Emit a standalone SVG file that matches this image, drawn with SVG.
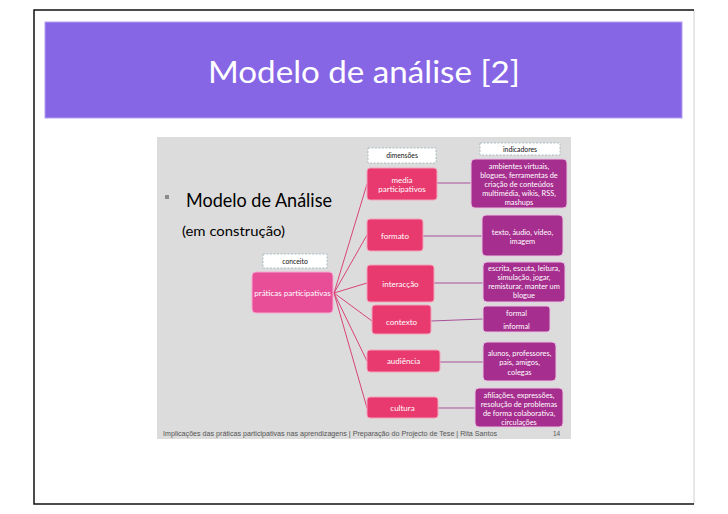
<svg xmlns="http://www.w3.org/2000/svg" width="728" height="514" viewBox="0 0 728 514">
<style>
.dim{fill:#E83A6E;stroke:#F4A3BC;stroke-width:1}
.con{fill:#E84E98;stroke:#F6A9CF;stroke-width:1}
.ind{fill:#A62E8E;stroke:#E9C3DF;stroke-width:1}
.lab{fill:#FFFFFF;stroke:#9FB0B8;stroke-width:0.8;stroke-dasharray:2,1.5}
.t{font-family:Lato,"Open Sans",sans-serif;font-size:8px;fill:#FFFFFF;text-anchor:middle}
.ti{font-family:Lato,"Open Sans",sans-serif;font-size:7.4px;fill:#FFFFFF;text-anchor:middle}
.lt{font-family:Lato,"Open Sans",sans-serif;font-size:6.8px;fill:#111111;text-anchor:middle}
.c1{stroke:#D9437A;stroke-width:1;fill:none}
.c2{stroke:#A9509A;stroke-width:1;fill:none}
</style>
<rect x="0" y="0" width="728" height="514" fill="#FFFFFF"/>
<g id="frame">
<line x1="694" y1="10" x2="694" y2="504" stroke="#D0D0D0" stroke-width="1"/>
<polyline points="694,10 34,10 34,504 694,504" fill="none" stroke="#111111" stroke-width="1.5"/>
</g>
<g id="title">
<rect x="45" y="22" width="637" height="96" fill="#8766E6" stroke="#B3A0F0" stroke-width="1"/>
<text x="364" y="83" font-family="Lato,'Open Sans',sans-serif" font-size="30" fill="#FFFFFF" text-anchor="middle" textLength="312" lengthAdjust="spacingAndGlyphs">Modelo de análise [2]</text>
</g>
<g id="slide">
<rect x="157" y="137" width="414" height="302" fill="#DCDCDC"/>
<rect x="165" y="195" width="4" height="4" fill="#8A8A8A"/>
<text x="186" y="207" font-family="Lato,'Open Sans',sans-serif" font-size="19" fill="#000000" textLength="146" lengthAdjust="spacingAndGlyphs">Modelo de Análise</text>
<text x="182" y="236" font-family="Lato,'Open Sans',sans-serif" font-size="14" fill="#000000" textLength="103" lengthAdjust="spacingAndGlyphs">(em construção)</text>
<text x="163" y="436" font-family="'Liberation Sans',Arial,sans-serif" font-size="6.5" fill="#555555" textLength="334" lengthAdjust="spacingAndGlyphs">Implicações das práticas participativas nas aprendizagens | Preparação do Projecto de Tese |  Rita Santos</text>
<text x="553" y="436" font-family="'Liberation Sans',Arial,sans-serif" font-size="6.5" fill="#555555">14</text>
</g>
<g id="connectors">
<line class="c1" x1="334" y1="293" x2="367" y2="184"/>
<line class="c1" x1="334" y1="293" x2="367" y2="235"/>
<line class="c1" x1="334" y1="293" x2="367" y2="283"/>
<line class="c1" x1="334" y1="293" x2="372" y2="321"/>
<line class="c1" x1="334" y1="293" x2="367" y2="361"/>
<line class="c1" x1="334" y1="293" x2="367" y2="408"/>
<line class="c2" x1="437" y1="183" x2="471" y2="183"/>
<line class="c2" x1="423" y1="236" x2="482" y2="236"/>
<line class="c2" x1="434" y1="283" x2="483" y2="283"/>
<line class="c2" x1="431" y1="321" x2="483" y2="319"/>
<line class="c2" x1="440" y1="362" x2="483" y2="362"/>
<line class="c2" x1="438" y1="408" x2="475" y2="408"/>
</g>
<g id="label-conceito">
<rect class="lab" x="263" y="254" width="64" height="14"/>
<text class="lt" x="295" y="264">conceito</text>
</g>
<g id="label-dimensoes">
<rect class="lab" x="368" y="148" width="68" height="15"/>
<text class="lt" x="402" y="158">dimensões</text>
</g>
<g id="label-indicadores">
<rect class="lab" x="480" y="143" width="80" height="12"/>
<text class="lt" x="520" y="152">indicadores</text>
</g>
<g id="node-praticas">
<rect class="con" x="252" y="272" width="81" height="41" rx="4"/>
<text class="t" x="292.5" y="296">práticas participativas</text>
</g>
<g id="node-media">
<rect class="dim" x="367" y="168" width="70" height="32" rx="3"/>
<text class="t" x="402" y="183">media</text>
<text class="t" x="402" y="192">participativos</text>
</g>
<g id="node-formato">
<rect class="dim" x="367" y="219" width="56" height="32" rx="3"/>
<text class="t" x="395" y="239">formato</text>
</g>
<g id="node-interaccao">
<rect class="dim" x="367" y="265" width="67" height="37" rx="3"/>
<text class="t" x="400.5" y="287">interacção</text>
</g>
<g id="node-contexto">
<rect class="dim" x="372" y="305" width="59" height="29" rx="3"/>
<text class="t" x="401.5" y="325">contexto</text>
</g>
<g id="node-audiencia">
<rect class="dim" x="367" y="350" width="73" height="22" rx="3"/>
<text class="t" x="403.5" y="364">audiência</text>
</g>
<g id="node-cultura">
<rect class="dim" x="367" y="397" width="71" height="21" rx="3"/>
<text class="t" x="402.5" y="411">cultura</text>
</g>
<g id="ind-media">
<rect class="ind" x="471" y="159" width="96" height="49" rx="4"/>
<text class="ti" x="519" y="169">ambientes virtuais,</text>
<text class="ti" x="519" y="178">blogues, ferramentas de</text>
<text class="ti" x="519" y="187">criação de conteúdos</text>
<text class="ti" x="519" y="196">multimédia, wikis, RSS,</text>
<text class="ti" x="519" y="205">mashups</text>
</g>
<g id="ind-formato">
<rect class="ind" x="482" y="215" width="81" height="41" rx="4"/>
<text class="ti" x="522.5" y="235">texto, áudio, vídeo,</text>
<text class="ti" x="522.5" y="244">imagem</text>
</g>
<g id="ind-interaccao">
<rect class="ind" x="483" y="262" width="82" height="40" rx="4"/>
<text class="ti" x="524" y="271">escrita, escuta, leitura,</text>
<text class="ti" x="524" y="280">simulação, jogar,</text>
<text class="ti" x="524" y="289">remisturar, manter um</text>
<text class="ti" x="524" y="298">blogue</text>
</g>
<g id="ind-contexto">
<rect class="ind" x="483" y="306" width="67" height="26" rx="3"/>
<text class="ti" x="516.5" y="316">formal</text>
<text class="ti" x="516.5" y="329">informal</text>
</g>
<g id="ind-audiencia">
<rect class="ind" x="483" y="342" width="73" height="39" rx="4"/>
<text class="ti" x="519.5" y="356">alunos, professores,</text>
<text class="ti" x="519.5" y="365">pais, amigos,</text>
<text class="ti" x="519.5" y="375">colegas</text>
</g>
<g id="ind-cultura">
<rect class="ind" x="475" y="388" width="88" height="39" rx="4"/>
<text class="ti" x="519" y="398">afiliações, expressões,</text>
<text class="ti" x="519" y="407">resolução de problemas</text>
<text class="ti" x="519" y="416">de forma colaborativa,</text>
<text class="ti" x="519" y="425">circulações</text>
</g>
</svg>
